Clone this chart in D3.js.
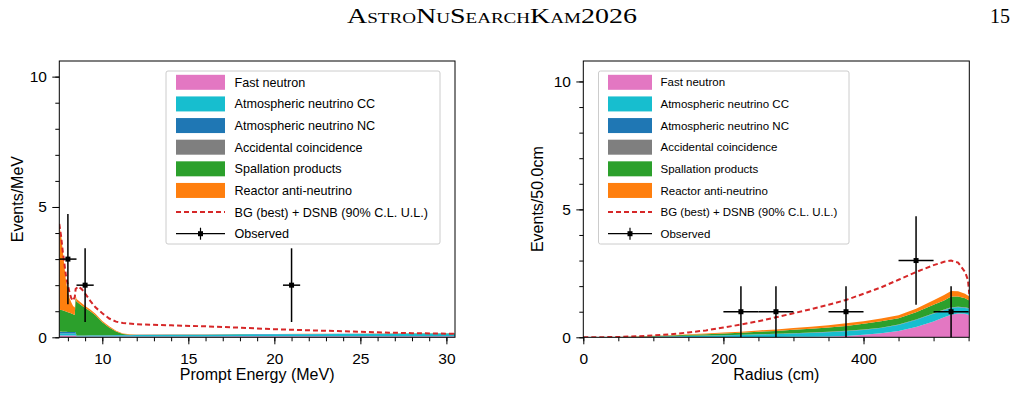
<!DOCTYPE html>
<html>
<head>
<meta charset="utf-8">
<style>
  body { margin: 0; background: #fff; }
  svg text { font-family: "Liberation Sans", Arial, sans-serif; }
</style>
</head>
<body>
<svg width="1015" height="402" id="fig"></svg>
<script src="https://d3js.org/d3.v7.min.js"></script>
<script>

// ---- legend
const labels = ['Fast neutron', 'Atmospheric neutrino CC', 'Atmospheric neutrino NC',
  'Accidental coincidence', 'Spallation products', 'Reactor anti-neutrino']
const colors = ['#e377c2', '#17becf', '#1f77b4', '#7f7f7f', '#2ca02c', '#ff7f0e']
const dashLabel = 'BG (best) + DSNB (90% C.L. U.L.)'
const obsLabel = 'Observed'

// ---- left panel: prompt energy (MeV), Events/MeV
const energy = [7.5, 7.6, 7.7, 7.8, 7.9, 8.0, 8.1, 8.2, 8.3, 8.4, 8.45, 8.5, 8.7, 9.0, 9.3, 9.6,
  10.0, 10.4, 10.8, 11.2, 11.6, 12, 14, 16, 18, 20, 22, 24, 26, 28, 30, 30.5]
const eFast = [0.07, 0.07, 0.07, 0.07, 0.07, 0.07, 0.07, 0.07, 0.07, 0.07, 0.07, 0.03, 0.03, 0.03, 0.03, 0.03,
  0.03, 0.03, 0.03, 0.03, 0.03, 0.03, 0.035, 0.035, 0.04, 0.04, 0.04, 0.04, 0.04, 0.04, 0.04, 0.04]
const eAtmCC = [0.08, 0.08, 0.08, 0.08, 0.08, 0.08, 0.08, 0.08, 0.08, 0.08, 0.08, 0.03, 0.03, 0.03, 0.035, 0.035,
  0.04, 0.04, 0.045, 0.05, 0.05, 0.055, 0.06, 0.065, 0.07, 0.075, 0.08, 0.085, 0.09, 0.1, 0.1, 0.1]
const eAtmNC = [0.05, 0.05, 0.05, 0.05, 0.05, 0.05, 0.05, 0.05, 0.05, 0.05, 0.05, 0.01, 0.01, 0.01, 0.01, 0.01,
  0.01, 0.01, 0.01, 0.01, 0.01, 0.01, 0.01, 0.01, 0.01, 0.01, 0.01, 0.01, 0.01, 0.01, 0.01, 0.01]
const eAccid = [0.02, 0.02, 0.015, 0.01, 0.01, 0.005, 0.005, 0.005, 0, 0, 0, 0, 0, 0, 0, 0,
  0, 0, 0, 0, 0, 0, 0, 0, 0, 0, 0, 0, 0, 0, 0, 0]
const eSpall = [0.84, 0.83, 0.82, 0.8, 0.78, 0.76, 0.74, 0.71, 0.68, 0.66, 1.32, 1.3, 1.2, 1.05, 0.92, 0.77,
  0.5, 0.3, 0.14, 0.04, 0.01, 0.005, 0.003, 0.002, 0.002, 0.002, 0.001, 0.001, 0.001, 0.001, 0.001, 0.001]
const eReactor = [3.2, 2.9, 2.3, 1.7, 1.1, 0.8, 0.55, 0.42, 0.32, 0.28, 0.11, 0.1, 0.09, 0.08, 0.07, 0.06,
  0.05, 0.04, 0.03, 0.02, 0.015, 0.01, 0.006, 0.004, 0.003, 0.002, 0.002, 0.001, 0.001, 0.001, 0.001, 0.001]
const eDashX = [7.5, 7.6, 7.7, 7.8, 7.9, 8.0, 8.1, 8.2, 8.3, 8.4, 8.45, 8.6, 8.8, 9.0, 9.3, 9.6,
  10.0, 10.4, 10.8, 11.2, 12, 14, 16, 18, 20, 22, 24, 26, 28, 30, 30.5]
const eDashY = [4.35, 3.9, 3.3, 2.8, 2.3, 2.0, 1.7, 1.5, 1.4, 1.55, 1.85, 1.95, 1.85, 1.68, 1.4, 1.15,
  0.92, 0.72, 0.6, 0.55, 0.5, 0.46, 0.42, 0.37, 0.31, 0.27, 0.23, 0.19, 0.16, 0.14, 0.14]
const eObsX = [8, 9, 21]
const eObsY = [3, 2, 2]
const eBinHalf = 0.5

// ---- right panel: radius (cm), Events/50.0cm
const radius = [0, 25, 50, 75, 100, 125, 150, 175, 200, 225, 250, 275, 300, 325, 350, 375, 400,
  425, 450, 475, 500, 515, 525, 535, 545, 551]
const rFast = [0, 0, 0, 0, 0.005, 0.005, 0.01, 0.01, 0.01, 0.01, 0.015, 0.015, 0.02, 0.02, 0.03, 0.05, 0.1,
  0.16, 0.25, 0.4, 0.62, 0.78, 0.88, 0.93, 0.92, 0.87]
const rAtmCC = [0, 0.002, 0.005, 0.01, 0.02, 0.03, 0.04, 0.05, 0.065, 0.08, 0.095, 0.11, 0.13, 0.15, 0.17, 0.19, 0.19,
  0.2, 0.23, 0.28, 0.3, 0.28, 0.27, 0.24, 0.23, 0.24]
const rAtmNC = [0, 0, 0, 0.002, 0.002, 0.003, 0.004, 0.004, 0.005, 0.005, 0.006, 0.006, 0.007, 0.007, 0.008, 0.008, 0.009,
  0.01, 0.01, 0.011, 0.012, 0.012, 0.012, 0.012, 0.012, 0.012]
const rAccid = [0, 0, 0, 0, 0, 0.002, 0.002, 0.003, 0.003, 0.004, 0.004, 0.005, 0.005, 0.006, 0.006, 0.007, 0.007,
  0.008, 0.008, 0.009, 0.01, 0.01, 0.01, 0.01, 0.01, 0.01]
const rSpall = [0, 0.002, 0.005, 0.01, 0.02, 0.03, 0.04, 0.055, 0.07, 0.08, 0.1, 0.11, 0.13, 0.15, 0.17, 0.19, 0.22,
  0.25, 0.25, 0.28, 0.33, 0.36, 0.42, 0.4, 0.35, 0.31]
const rReactor = [0, 0.001, 0.003, 0.005, 0.01, 0.015, 0.02, 0.03, 0.035, 0.04, 0.05, 0.06, 0.07, 0.08, 0.09, 0.1, 0.1,
  0.11, 0.11, 0.14, 0.18, 0.21, 0.22, 0.21, 0.18, 0.15]
const rDashX = [0, 25, 50, 75, 100, 125, 150, 175, 200, 225, 250, 275, 300, 325, 350, 375, 400,
  425, 450, 475, 500, 515, 525, 535, 545, 549, 551]
const rDashY = [0, 0.005, 0.01, 0.04, 0.07, 0.12, 0.19, 0.27, 0.38, 0.5, 0.63, 0.78, 0.94, 1.1, 1.27, 1.46, 1.7,
  1.95, 2.25, 2.55, 2.82, 2.95, 3.0, 2.92, 2.55, 2.25, 1.7]
const rObsX = [225, 275, 375, 475, 525]
const rObsY = [1, 1, 1, 3, 1]
const rBinHalf = 25

const svg = d3.select('#fig')

function translate(x, y) { return 'translate(' + x + ',' + y + ')' }

// page header
svg.append('text').attr('x', 347).attr('y', 23)
  .attr('textLength', 290).attr('lengthAdjust', 'spacingAndGlyphs')
  .style('font-family', '"Liberation Serif", "DejaVu Serif", serif')
  .style('font-variant', 'small-caps').style('font-size', '22px')
  .text('AstroNuSearchKam2026')
svg.append('text').attr('x', 1010).attr('y', 23).attr('text-anchor', 'end')
  .style('font-family', '"Liberation Serif", "DejaVu Serif", serif')
  .style('font-size', '20px').text('15')

function panel(opt) {
  let x = d3.scaleLinear().domain(opt.xdom).range([opt.left, opt.right])
  let y = d3.scaleLinear().domain(opt.ydom).range([opt.bottom, opt.top])
  let g = svg.append('g')

  let clipId = 'clip' + opt.id
  svg.append('clipPath').attr('id', clipId).append('rect')
    .attr('x', opt.left).attr('y', opt.top)
    .attr('width', opt.right - opt.left).attr('height', opt.bottom - opt.top)

  // stacked backgrounds
  let rows = opt.xs.map((v, i) => {
    let r = { x: v }
    opt.series.forEach((s, k) => r[k] = s[i])
    return r
  })
  let stack = d3.stack().keys(opt.series.map((s, k) => k))(rows)
  let area = d3.area().x(d => x(d.data.x)).y0(d => y(d[0])).y1(d => y(d[1]))
  let plot = g.append('g').attr('clip-path', 'url(#' + clipId + ')')
  plot.selectAll('path.stack').data(stack).enter().append('path')
    .attr('class', 'stack')
    .attr('fill', (d, k) => colors[k])
    .attr('d', area)

  // dashed total
  let line = d3.line().x(d => x(d[0])).y(d => y(d[1]))
  plot.append('path')
    .datum(opt.dashX.map((v, i) => [v, opt.dashY[i]]))
    .attr('fill', 'none').attr('stroke', '#d62728').attr('stroke-width', 2)
    .attr('stroke-dasharray', '5,3').attr('d', line)

  // observed
  let obs = opt.obsX.map((v, i) => [v, opt.obsY[i]])
  let og = g.append('g')
  og.selectAll('line.xe').data(obs).enter().append('line')
    .attr('x1', d => x(d[0] - opt.half)).attr('x2', d => x(d[0] + opt.half))
    .attr('y1', d => y(d[1])).attr('y2', d => y(d[1]))
    .attr('stroke', 'black').attr('stroke-width', 1.5)
  og.selectAll('line.ye').data(obs).enter().append('line')
    .attr('x1', d => x(d[0])).attr('x2', d => x(d[0]))
    .attr('y1', d => y(Math.max(0, d[1] - Math.sqrt(d[1])))).attr('y2', d => y(d[1] + Math.sqrt(d[1])))
    .attr('stroke', 'black').attr('stroke-width', 1.5)
  og.selectAll('rect').data(obs).enter().append('rect')
    .attr('x', d => x(d[0]) - 2.5).attr('y', d => y(d[1]) - 2.5)
    .attr('width', 5).attr('height', 5).attr('fill', 'black')

  // frame
  g.append('rect').attr('x', opt.left).attr('y', opt.top)
    .attr('width', opt.right - opt.left).attr('height', opt.bottom - opt.top)
    .attr('fill', 'none').attr('stroke', 'black').attr('stroke-width', 1)

  // axes
  let xAxis = d3.axisBottom(x).tickValues(opt.xticks).tickSize(7).tickFormat(d3.format('d'))
  let xMinor = d3.axisBottom(x).tickValues(opt.xminor).tickSize(4).tickFormat('')
  let yAxis = d3.axisLeft(y).tickValues([0, 5, 10]).tickSize(7).tickFormat(d3.format('d'))
  let yMinor = d3.axisLeft(y).tickValues(d3.range(0, 11, 1)).tickSize(4).tickFormat('')
  ;[[xAxis, 'x'], [xMinor, 'x'], [yAxis, 'y'], [yMinor, 'y']].forEach(([ax, k]) => {
    let a = g.append('g')
      .attr('transform', k === 'x' ? translate(0, opt.bottom) : translate(opt.left, 0))
      .call(ax)
    a.select('.domain').remove()
    a.selectAll('line').attr('stroke', 'black').attr('stroke-width', 1)
    a.selectAll('text').style('font-size', '15.5px').attr('fill', 'black')
      .style('font-family', '"Liberation Sans", Arial, sans-serif')
    if (k === 'x') a.selectAll('text').attr('dy', '1.1em')
    else a.selectAll('text').attr('dx', '-0.15em')
  })

  g.append('text').attr('x', (opt.left + opt.right) / 2).attr('y', 380)
    .attr('text-anchor', 'middle').style('font-size', '16px').text(opt.xlabel)
  g.append('text').attr('transform', translate(opt.ylabelX, (opt.top + opt.bottom) / 2) + ' rotate(-90)')
    .attr('text-anchor', 'middle').style('font-size', '16px').text(opt.ylabel)

  // legend
  let L = opt.legend
  let lg = g.append('g')
  lg.append('rect').attr('x', L.x0).attr('y', 71).attr('width', L.x1 - L.x0).attr('height', 173)
    .attr('rx', 2).attr('fill', 'white').attr('fill-opacity', 0.85)
    .attr('stroke', '#cccccc').attr('stroke-width', 1)
  let rowY = i => 82.3 + i * 21.63
  labels.forEach((lab, i) => {
    lg.append('rect').attr('x', L.px).attr('y', rowY(i) - 7.5).attr('width', L.pw).attr('height', 15)
      .attr('fill', colors[i])
  })
  lg.append('line').attr('x1', L.px).attr('x2', L.px + L.pw).attr('y1', rowY(6)).attr('y2', rowY(6))
    .attr('stroke', '#d62728').attr('stroke-width', 2).attr('stroke-dasharray', '5,3')
  lg.append('line').attr('x1', L.px).attr('x2', L.px + L.pw).attr('y1', rowY(7)).attr('y2', rowY(7))
    .attr('stroke', 'black').attr('stroke-width', 1.2)
  lg.append('line').attr('x1', L.px + L.pw / 2).attr('x2', L.px + L.pw / 2)
    .attr('y1', rowY(7) - 6).attr('y2', rowY(7) + 6).attr('stroke', 'black').attr('stroke-width', 1.2)
  lg.append('rect').attr('x', L.px + L.pw / 2 - 2.5).attr('y', rowY(7) - 2.5)
    .attr('width', 5).attr('height', 5).attr('fill', 'black')
  labels.concat([dashLabel, obsLabel]).forEach((lab, i) => {
    lg.append('text').attr('x', L.tx).attr('y', rowY(i)).attr('dy', '0.36em')
      .style('font-size', L.fs + 'px').text(lab)
  })
}

panel({
  id: 'E', xs: energy, series: [eFast, eAtmCC, eAtmNC, eAccid, eSpall, eReactor],
  dashX: eDashX, dashY: eDashY, obsX: eObsX, obsY: eObsY, half: eBinHalf,
  xdom: [7.5, 30.5], ydom: [0, 10.6], left: 59.3, right: 455, top: 61, bottom: 337.3,
  xticks: [10, 15, 20, 25, 30], xminor: d3.range(8, 31, 1),
  xlabel: 'Prompt Energy (MeV)', ylabel: 'Events/MeV', ylabelX: 23,
  legend: { x0: 166, x1: 440, px: 176, pw: 49, tx: 234.5, fs: 12.6 }
})

panel({
  id: 'R', xs: radius, series: [rFast, rAtmCC, rAtmNC, rAccid, rSpall, rReactor],
  dashX: rDashX, dashY: rDashY, obsX: rObsX, obsY: rObsY, half: rBinHalf,
  xdom: [0, 551], ydom: [0, 10.8], left: 583.3, right: 969.3, top: 61, bottom: 337.3,
  xticks: [0, 200, 400], xminor: d3.range(0, 551, 50),
  xlabel: 'Radius (cm)', ylabel: 'Events/50.0cm', ylabelX: 543,
  legend: { x0: 598.5, x1: 849, px: 608, pw: 44, tx: 660.5, fs: 11.5 }
})

</script>
</body>
</html>
